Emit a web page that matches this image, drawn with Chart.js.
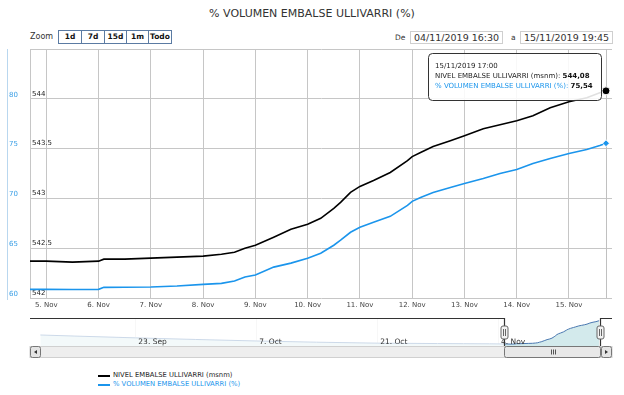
<!DOCTYPE html>
<html lang="es">
<head>
<meta charset="utf-8">
<title>% VOLUMEN EMBALSE ULLIVARRI (%)</title>
<script src="https://cdn.jsdelivr.net/npm/chart.js@4/dist/chart.umd.min.js"></script>
<style>
html,body{margin:0;padding:0;background:#fff;}
body{position:relative;width:624px;height:395px;overflow:hidden;font-family:"DejaVu Sans",Verdana,sans-serif;color:#333;}
.abs{position:absolute;}
#title{left:0;top:7px;width:624px;text-align:center;font-size:11px;line-height:13px;color:#333;white-space:nowrap;}
#zoomLbl{left:30px;top:31px;font-size:8px;line-height:12px;color:#333;}
#zoomBtns{left:58px;top:30px;display:flex;}
.zb{box-sizing:border-box;height:14px;border:1px solid #5b7ba3;margin-right:-1px;font-size:7.5px;font-weight:bold;line-height:12px;text-align:center;color:#111;background:#fff;}
.dl{font-size:7.5px;line-height:12px;color:#333;top:32px;}
.db{box-sizing:border-box;top:31px;height:13px;width:93px;border:1px solid #cfcfcf;font-size:9.5px;line-height:11px;text-align:center;color:#333;background:#fff;white-space:nowrap;}
#main{left:0;top:0;}
#nav{left:0;top:312px;}
#legend{left:98px;top:371px;font-size:6.8px;line-height:9px;}
.lg{display:flex;align-items:center;height:9px;white-space:nowrap;}
.lg span.ln{display:inline-block;width:12px;height:2px;margin-right:3px;}
</style>
</head>
<body>
<div id="title" class="abs">% VOLUMEN EMBALSE ULLIVARRI (%)</div>
<div id="zoomLbl" class="abs">Zoom</div>
<div id="zoomBtns" class="abs"></div>
<div class="abs dl" style="left:395px">De</div>
<div id="dFrom" class="abs db" style="left:410px"></div>
<div class="abs dl" style="left:511px">a</div>
<div id="dTo" class="abs db" style="left:520px"></div>
<canvas id="main" class="abs" width="624" height="312"></canvas>
<canvas id="nav" class="abs" width="624" height="48"></canvas>
<div id="legend" class="abs"></div>
<script>
// ---------------- DATA ----------------
// time axis: day of November 2019 (fractional days)
const dayTimes = [4.6875, 5.0, 5.5, 6.0, 6.1, 6.5, 7.0, 7.5, 8.0, 8.35, 8.6, 8.8, 9.0, 9.35, 9.68,
  10.0, 10.25, 10.5, 10.63, 10.82, 11.0, 11.26, 11.58, 11.91, 12.0, 12.16, 12.4, 12.73, 13.0,
  13.36, 13.68, 14.0, 14.31, 14.64, 15.0, 15.34, 15.59, 15.7083];
const nivelValues = [542.37, 542.37, 542.36, 542.37, 542.39, 542.39, 542.40, 542.41, 542.42, 542.44,
  542.46, 542.50, 542.53, 542.61, 542.69, 542.74, 542.80, 542.90, 542.96, 543.06, 543.12, 543.18,
  543.26, 543.38, 543.42, 543.46, 543.52, 543.58, 543.63, 543.70, 543.74, 543.78, 543.83, 543.91,
  543.97, 544.01, 544.06, 544.08];
const volumenValues = [60.87, 60.87, 60.85, 60.87, 61.07, 61.08, 61.10, 61.20, 61.37, 61.47,
  61.70, 62.10, 62.30, 63.10, 63.50, 64.00, 64.50, 65.30, 65.80, 66.60, 67.10, 67.60,
  68.20, 69.30, 69.70, 70.10, 70.60, 71.10, 71.50, 72.00, 72.50, 72.90, 73.50, 74.00,
  74.50, 74.90, 75.30, 75.54];
const seriesNames = ['NIVEL EMBALSE ULLIVARRI (msnm)', '% VOLUMEN EMBALSE ULLIVARRI (%)'];
const xTickDays = [5, 6, 7, 8, 9, 10, 11, 12, 13, 14, 15];
const nivelTicks = [542, 542.5, 543, 543.5, 544, 544.5];
const volumenTicks = [60, 65, 70, 75, 80, 85];
const rangeStart = 4.6875;   // 04/11/2019 16:30
const rangeEnd = 15.8229;    // 15/11/2019 19:45
// navigator (whole history, days relative to 1 Nov)
const navHistoryDays = [-49, -45, -38, -31, -24, -17, -10, -3, 0, 3];
const navHistoryNivel = [543.03, 542.95, 542.82, 542.70, 542.59, 542.50, 542.43, 542.40, 542.39, 542.38];
const navTickDays = [-38, -24, -10, 4];
const navTickLabels = ['23. Sep', '7. Oct', '21. Oct', '4. Nov'];
const navMin = -50.2, navMax = 17.2;
const zoomButtons = ['1d', '7d', '15d', '1m', 'Todo'];
const zoomButtonWidths = [24, 24, 23, 23, 24];

// ---------------- STYLE ----------------
const FONT = 'DejaVu Sans';
const BLUE = '#1b95ec';
const GRID = '#c6c6c6';

function fmtDate(v) {
  const d = Math.floor(v);
  const mins = Math.round((v - d) * 24 * 60);
  const hh = String(Math.floor(mins / 60)).padStart(2, '0');
  const mm = String(mins % 60).padStart(2, '0');
  return String(d).padStart(2, '0') + '/11/2019 ' + hh + ':' + mm;
}
function fmtNum(v) { return v.toFixed(2).replace('.', ','); }

document.getElementById('dFrom').textContent = fmtDate(rangeStart);
document.getElementById('dTo').textContent = fmtDate(rangeEnd);
const zb = document.getElementById('zoomBtns');
zoomButtons.forEach((t, i) => {
  const b = document.createElement('div');
  b.className = 'zb'; b.style.width = zoomButtonWidths[i] + 'px'; b.textContent = t;
  zb.appendChild(b);
});

const last = dayTimes.length - 1;
const lastOnly = (r) => (c) => c.dataIndex === last ? r : 0;

const crosshairPlugin = {
  id: 'crosshair',
  beforeDatasetsDraw(chart) {
    const p = chart.getDatasetMeta(0).data[last];
    const a = chart.chartArea, ctx = chart.ctx;
    ctx.save();
    ctx.strokeStyle = '#c0c0c0'; ctx.lineWidth = 1;
    ctx.beginPath(); ctx.moveTo(Math.round(p.x) + 0.5, a.top); ctx.lineTo(Math.round(p.x) + 0.5, a.bottom); ctx.stroke();
    ctx.restore();
  }
};
const pctAxisLinePlugin = {
  id: 'pctAxisLine',
  afterDraw(chart) {
    const s = chart.scales.yPct, ctx = chart.ctx;
    ctx.save();
    ctx.strokeStyle = '#b9d7ef'; ctx.lineWidth = 1;
    ctx.beginPath(); ctx.moveTo(s.left - 1.5, s.top); ctx.lineTo(s.left - 1.5, s.bottom + 2); ctx.stroke();
    ctx.restore();
  }
};
const tooltipPlugin = {
  id: 'fixedTip',
  afterDraw(chart) {
    const ctx = chart.ctx;
    const p0 = chart.getDatasetMeta(0).data[last];
    const lines = [
      [{t: fmtDate(dayTimes[last]), c: '#222', b: false}],
      [{t: seriesNames[0] + ': ', c: '#222', b: false}, {t: fmtNum(nivelValues[last]), c: '#111', b: true}],
      [{t: seriesNames[1] + ': ', c: BLUE, b: false}, {t: fmtNum(volumenValues[last]), c: '#111', b: true}]
    ];
    ctx.save();
    const fN = '7px "' + FONT + '"', fB = 'bold 7px "' + FONT + '"';
    let maxW = 0;
    lines.forEach(l => {
      let w = 0;
      l.forEach(s => { ctx.font = s.b ? fB : fN; w += ctx.measureText(s.t).width; });
      maxW = Math.max(maxW, w);
    });
    const w = Math.round(maxW + 15), h = 47;
    const right = Math.round(p0.x) - 5, left = right - w, top = Math.round(p0.y) - 38;
    ctx.beginPath();
    ctx.roundRect(left + 0.5, top + 0.5, w, h, 4);
    ctx.fillStyle = 'rgba(255,255,255,0.88)'; ctx.fill();
    ctx.strokeStyle = '#333'; ctx.lineWidth = 1; ctx.stroke();
    ctx.textBaseline = 'middle';
    lines.forEach((l, i) => {
      let x = left + 7;
      const y = top + 13 + i * 10;
      l.forEach(s => {
        ctx.font = s.b ? fB : fN; ctx.fillStyle = s.c;
        ctx.fillText(s.t, x, y);
        x += ctx.measureText(s.t).width;
      });
    });
    ctx.restore();
  }
};

const mainChart = new Chart(document.getElementById('main'), {
  type: 'line',
  data: {
    datasets: [
      {
        label: seriesNames[0],
        data: dayTimes.map((d, i) => ({x: d, y: nivelValues[i]})),
        yAxisID: 'yNivel',
        borderColor: '#000', backgroundColor: '#000', borderWidth: 1.6,
        pointRadius: lastOnly(4), pointBorderColor: '#fff', pointBorderWidth: 1,
        tension: 0, fill: false
      },
      {
        label: seriesNames[1],
        data: dayTimes.map((d, i) => ({x: d, y: volumenValues[i]})),
        yAxisID: 'yPct',
        borderColor: BLUE, backgroundColor: BLUE, borderWidth: 1.6,
        pointRadius: lastOnly(3.5), pointStyle: 'rectRot', pointBorderColor: '#fff', pointBorderWidth: 1,
        tension: 0, fill: false
      }
    ]
  },
  options: {
    responsive: false, animation: false, events: [],
    layout: {padding: {left: 9, right: 12, top: 49, bottom: 0}},
    plugins: {legend: {display: false}, tooltip: {enabled: false}, title: {display: false}},
    scales: {
      x: {
        type: 'linear', min: rangeStart, max: rangeEnd,
        afterBuildTicks: s => { s.ticks = xTickDays.map(v => ({value: v})); },
        afterFit: s => { s.height = 14; },
        ticks: {callback: v => v + '. Nov', font: {family: FONT, size: 7}, color: '#444', padding: 3, maxRotation: 0, autoSkip: false},
        grid: {color: GRID, drawTicks: false},
        border: {display: false}
      },
      yNivel: {
        type: 'linear', position: 'left', weight: 0, min: 542, max: 544.5,
        afterBuildTicks: s => { s.ticks = nivelTicks.map(v => ({value: v})); },
        afterFit: s => { s.width = 0; },
        ticks: {mirror: true, padding: 2, labelOffset: -5, font: {family: FONT, size: 7}, color: '#222',
          callback: v => v === nivelTicks[nivelTicks.length - 1] ? '' : String(v)},
        grid: {color: GRID, drawTicks: false},
        border: {display: true, color: GRID}
      },
      yPct: {
        type: 'linear', position: 'left', weight: 1, min: 60, max: 85,
        afterBuildTicks: s => { s.ticks = volumenTicks.map(v => ({value: v})); },
        afterFit: s => { s.width = 21; },
        ticks: {crossAlign: 'far', padding: 0, labelOffset: -4, font: {family: FONT, size: 7}, color: '#3a9fe6',
          callback: v => v === volumenTicks[volumenTicks.length - 1] ? '' : String(v)},
        grid: {display: false, drawTicks: false},
        border: {display: false}
      }
    }
  },
  plugins: [crosshairPlugin, pctAxisLinePlugin, tooltipPlugin]
});

// legend built from datasets
const lgEl = document.getElementById('legend');
mainChart.data.datasets.forEach((ds, i) => {
  const row = document.createElement('div'); row.className = 'lg';
  const ln = document.createElement('span'); ln.className = 'ln'; ln.style.background = ds.borderColor;
  const tx = document.createElement('span'); tx.textContent = ds.label; tx.style.color = i === 0 ? '#222' : BLUE;
  row.appendChild(ln); row.appendChild(tx); lgEl.appendChild(row);
});

// ---------------- NAVIGATOR ----------------
const navDays = navHistoryDays.concat(dayTimes);
const navValues = navHistoryNivel.concat(nivelValues);

const navDecor = {
  id: 'navDecor',
  beforeDatasetsDraw(chart) {
    const ctx = chart.ctx, a = chart.chartArea, x = chart.scales.x;
    ctx.save();
    ctx.strokeStyle = '#e3e3e3'; ctx.lineWidth = 1;
    navTickDays.forEach(d => {
      const px = Math.round(x.getPixelForValue(d)) + 0.5;
      ctx.beginPath(); ctx.moveTo(px, a.top); ctx.lineTo(px, a.bottom); ctx.stroke();
    });
    ctx.restore();
  },
  afterDatasetsDraw(chart) {
    const ctx = chart.ctx, a = chart.chartArea, x = chart.scales.x;
    const hl = Math.round(x.getPixelForValue(rangeStart)) + 0.5;
    const hr = Math.round(x.getPixelForValue(rangeEnd)) + 0.5;
    ctx.save();
    // mask outside selection
    ctx.fillStyle = 'rgba(255,255,255,0.72)';
    ctx.fillRect(a.left, a.top, hl - a.left, a.bottom - a.top);
    ctx.fillRect(hr, a.top, a.right - hr, a.bottom - a.top);
    // labels
    ctx.font = '7.5px "' + FONT + '"'; ctx.fillStyle = '#333'; ctx.textBaseline = 'middle';
    navTickDays.forEach((d, i) => ctx.fillText(navTickLabels[i], x.getPixelForValue(d) + 3, a.bottom - 4));
    // outline
    ctx.strokeStyle = '#333'; ctx.lineWidth = 1.2;
    ctx.beginPath();
    ctx.moveTo(a.left, a.top + 0.5); ctx.lineTo(hl, a.top + 0.5); ctx.lineTo(hl, a.bottom + 1);
    ctx.lineTo(hr, a.bottom + 1); ctx.lineTo(hr, a.top + 0.5); ctx.lineTo(a.right, a.top + 0.5);
    ctx.stroke();
    // scrollbar
    const sy = a.bottom + 0.5, sh = 11;
    ctx.lineWidth = 1;
    ctx.fillStyle = '#eeeeee'; ctx.strokeStyle = '#d0d0d0';
    ctx.fillRect(a.left, sy, a.right - a.left, sh); ctx.strokeRect(a.left, sy, a.right - a.left, sh);
    ctx.fillStyle = '#e4e4e4'; ctx.strokeStyle = '#777';
    [[a.left, 10], [a.right - 11, 10]].forEach(([bx, bw]) => {
      ctx.beginPath(); ctx.roundRect(bx + 0.5, sy, bw, sh, 2); ctx.fill(); ctx.stroke();
    });
    ctx.fillStyle = '#333';
    ctx.beginPath(); ctx.moveTo(a.left + 4, sy + 5.5); ctx.lineTo(a.left + 7, sy + 3.5); ctx.lineTo(a.left + 7, sy + 7.5); ctx.fill();
    ctx.beginPath(); ctx.moveTo(a.right - 4, sy + 5.5); ctx.lineTo(a.right - 7, sy + 3.5); ctx.lineTo(a.right - 7, sy + 7.5); ctx.fill();
    ctx.fillStyle = '#e8e8e8'; ctx.strokeStyle = '#777';
    ctx.beginPath(); ctx.roundRect(hl, sy, hr - hl, sh, 2); ctx.fill(); ctx.stroke();
    const cx = Math.round((hl + hr) / 2);
    ctx.strokeStyle = '#555';
    [-2, 0, 2].forEach(o => { ctx.beginPath(); ctx.moveTo(cx + o + 0.5, sy + 3); ctx.lineTo(cx + o + 0.5, sy + 8); ctx.stroke(); });
    // handles
    const hy = a.top + 8;
    [hl, hr].forEach(hx => {
      ctx.fillStyle = '#f2f2f2'; ctx.strokeStyle = '#666';
      ctx.beginPath(); ctx.roundRect(hx - 3.5, hy, 7, 13, 2); ctx.fill(); ctx.stroke();
      ctx.beginPath(); ctx.moveTo(hx - 1, hy + 3); ctx.lineTo(hx - 1, hy + 10); ctx.moveTo(hx + 1, hy + 3); ctx.lineTo(hx + 1, hy + 10); ctx.stroke();
    });
    ctx.restore();
  }
};

new Chart(document.getElementById('nav'), {
  type: 'line',
  data: {
    datasets: [{
      data: navDays.map((d, i) => ({x: d, y: navValues[i]})),
      borderColor: '#4a78b0', borderWidth: 1, backgroundColor: '#d3eaec',
      fill: 'start', pointRadius: 0, tension: 0
    }]
  },
  options: {
    responsive: false, animation: false, events: [],
    layout: {padding: {left: 30, right: 12, top: 6, bottom: 14}},
    plugins: {legend: {display: false}, tooltip: {enabled: false}},
    scales: {
      x: {type: 'linear', min: navMin, max: navMax, display: false},
      y: {type: 'linear', min: 542.22, max: 544.28, display: false}
    }
  },
  plugins: [navDecor]
});
</script>
</body>
</html>
